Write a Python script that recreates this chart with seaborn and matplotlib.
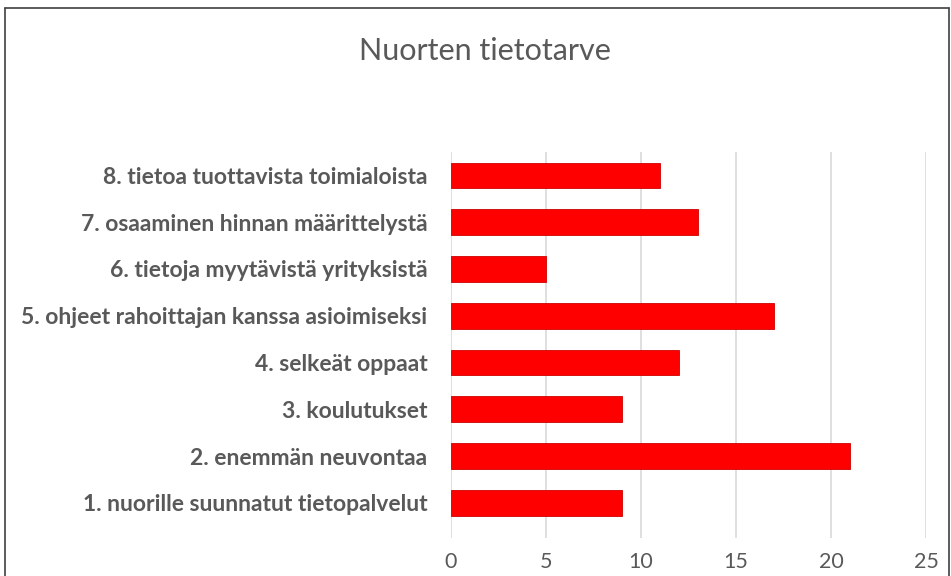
import pandas as pd
import matplotlib.pyplot as plt
import seaborn as sns
from matplotlib.lines import Line2D

# Kategoriat ja vastausmäärät (ylhäältä alas)
kategoriat = [
    '8. tietoa tuottavista toimialoista',
    '7. osaaminen hinnan määrittelystä',
    '6. tietoja myytävistä yrityksistä',
    '5. ohjeet rahoittajan kanssa asioimiseksi',
    '4. selkeät oppaat',
    '3. koulutukset',
    '2. enemmän neuvontaa',
    '1. nuorille suunnatut tietopalvelut',
]
arvot = [11, 13, 5, 17, 12, 9, 21, 9]
x_tiksit = [0, 5, 10, 15, 20, 25]

df = pd.DataFrame({'kategoria': kategoriat, 'arvo': arvot})

sns.set_style('white')
plt.rcParams['font.family'] = ['Lato', 'DejaVu Sans']

fig = plt.figure(figsize=(9.51, 5.76), dpi=100)
ax = fig.add_axes([451/951, 1 - 538/576, (926 - 451)/951, (538 - 152)/576])

sns.barplot(data=df, x='arvo', y='kategoria', orient='h', color='#ff0000',
            saturation=1, width=0.55, edgecolor='#d00000', linewidth=0.6, ax=ax)

ax.set_xlim(0, 25)
ax.set_ylim(7.75, -0.5)
ax.set_xticks(x_tiksit)
ax.set_xticklabels([str(t) for t in x_tiksit], fontsize=15.5, color='#595959')
ax.tick_params(axis='x', length=0, pad=10)
ax.tick_params(axis='y', length=0, pad=17)
for lab in ax.get_yticklabels():
    lab.set_fontsize(16.5)
    lab.set_fontweight('bold')
    lab.set_color('#595959')
ax.grid(axis='x', color='#d9d9d9', linewidth=1.2)
ax.set_axisbelow(True)
for s in ax.spines.values():
    s.set_visible(False)
ax.set_xlabel('')
ax.set_ylabel('')

fig.text(0.51, 0.912, 'Nuorten tietotarve', ha='center', va='center',
         fontsize=22, color='#595959')

# Kaavion kehys
fig.add_artist(Line2D([5/951, 5/951], [0, 1 - 8/576], color='#404040', lw=1.2))
fig.add_artist(Line2D([5/951, 949/951], [1 - 8/576, 1 - 8/576], color='#404040', lw=1.2))
fig.add_artist(Line2D([949/951, 949/951], [0, 1 - 8/576], color='#404040', lw=1.2))

fig.savefig('out.png', dpi=100)
